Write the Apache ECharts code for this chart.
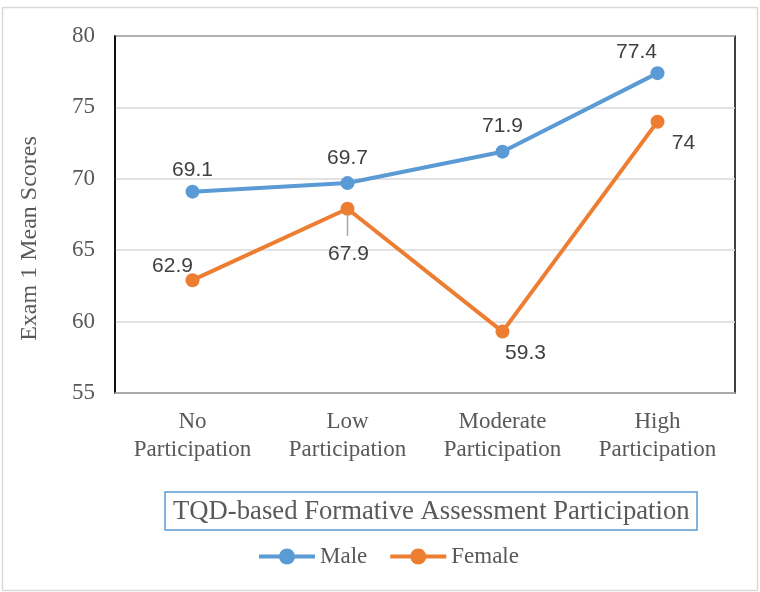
<!DOCTYPE html>
<html>
<head>
<meta charset="utf-8">
<script src="https://cdn.jsdelivr.net/npm/echarts@6/dist/echarts.min.js"></script>
<style>
  html, body { margin: 0; padding: 0; background: #fff; }
  #chart { width: 760px; height: 592px; }
</style>
</head>
<body>
<div id="chart"></div>
<script>
// Participation levels and mean exam scores by gender
const categories = ['No\nParticipation', 'Low\nParticipation', 'Moderate\nParticipation', 'High\nParticipation'];
const maleScores = [69.1, 69.7, 71.9, 77.4];
const femaleScores = [62.9, 67.9, 59.3, 74];
const yTicks = { min: 55, max: 80, interval: 5 };

// label placement around each marker (offset from the marker centre)
const maleOffsets = [[0, -21], [0, -25], [0, -25], [-21, -21]];
const femaleOffsets = [[-20, -14], [1, 45], [23, 22], [26, 22]];

const serif = '"Liberation Serif", "Times New Roman", serif';
const sans = '"Liberation Sans", Arial, sans-serif';

function withLabels(values, offsets) {
  return values.map((v, i) => ({
    value: v,
    label: { offset: offsets[i] }
  }));
}

const chart = echarts.init(document.getElementById('chart'));

const option = {
  animation: false,
  backgroundColor: '#fff',
  grid: {
    left: 115, top: 36, right: 25, bottom: 199,
    show: true, borderColor: '#000', borderWidth: 1.5
  },
  title: {
    text: 'TQD-based Formative Assessment Participation',
    left: 165, top: 492,
    padding: [6, 8, 5, 8],
    borderColor: '#5b9bd5', borderWidth: 1.5,
    textStyle: { fontFamily: serif, fontSize: 26.7, fontWeight: 'normal', color: '#595959' }
  },
  legend: {
    left: 257, top: 545, padding: 0,
    itemWidth: 56, itemHeight: 20, itemGap: 21,
    lineStyle: { width: 4 },
    textStyle: { fontFamily: serif, fontSize: 23, color: '#595959' },
    data: ['Male', 'Female']
  },
  xAxis: {
    type: 'category',
    data: categories,
    axisLine: { show: true, lineStyle: { color: '#a6a6a6', width: 1.5 } },
    axisTick: { show: false },
    axisLabel: {
      fontFamily: serif, fontSize: 23, color: '#595959',
      lineHeight: 28, margin: 15, interval: 0
    }
  },
  yAxis: {
    type: 'value',
    min: yTicks.min, max: yTicks.max, interval: yTicks.interval,
    name: 'Exam 1 Mean Scores',
    nameLocation: 'middle', nameGap: 73,
    nameTextStyle: { fontFamily: serif, fontSize: 24, color: '#595959', padding: [0, 48, 0, 0] },
    axisLine: { show: true, lineStyle: { color: '#000', width: 1.5 } },
    axisTick: { show: false },
    axisLabel: { fontFamily: serif, fontSize: 23, color: '#595959', margin: 20 },
    splitLine: { lineStyle: { color: '#d9d9d9', width: 1.5 } }
  },
  series: [
    {
      name: 'Male', type: 'line',
      data: withLabels(maleScores, maleOffsets),
      symbol: 'circle', symbolSize: 14,
      lineStyle: { color: '#5b9bd5', width: 4 },
      itemStyle: { color: '#5b9bd5' },
      label: { show: true, position: 'inside', fontFamily: sans, fontSize: 21, color: '#404040' },
      z: 3
    },
    {
      name: 'Female', type: 'line',
      data: withLabels(femaleScores, femaleOffsets),
      symbol: 'circle', symbolSize: 14,
      lineStyle: { color: '#ed7d31', width: 4 },
      itemStyle: { color: '#ed7d31' },
      label: { show: true, position: 'inside', fontFamily: sans, fontSize: 21, color: '#404040' },
      z: 4
    }
  ]
};

chart.setOption(option);

// outer frame and the leader line for the displaced "Low" female label
const p = chart.convertToPixel({ seriesIndex: 1 }, [1, femaleScores[1]]);
chart.setOption({
  graphic: [
    {
      type: 'rect', silent: true, z: -1,
      shape: { x: 2.5, y: 7.5, width: 755, height: 583 },
      style: { fill: null, stroke: '#d9d9d9', lineWidth: 1.5 }
    },
    {
      type: 'line', silent: true, z: 10,
      shape: { x1: p[0], y1: p[1] + 5, x2: p[0], y2: p[1] + 27 },
      style: { stroke: '#a6a6a6', lineWidth: 1.5 }
    }
  ]
});
</script>
</body>
</html>
